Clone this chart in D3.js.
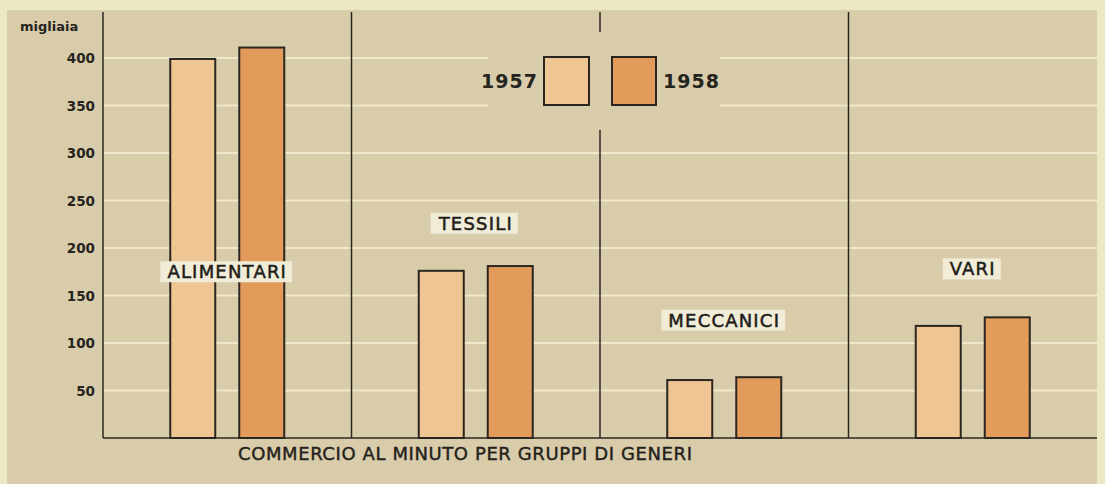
<!DOCTYPE html>
<html>
<head>
<meta charset="utf-8">
<script src="https://cdn.jsdelivr.net/npm/d3@7"></script>
<style>
  body { margin: 0; background: #ece8c4; }
  svg { display: block; }
</style>
</head>
<body>
<svg id="chart" width="1105" height="484"></svg>
<script>
// data
var categories = ["ALIMENTARI", "TESSILI", "MECCANICI", "VARI"];
var years = ["1957", "1958"];
var values1957 = [399, 176, 61, 118];
var values1958 = [411, 181, 64, 127];
var yTicks = [50, 100, 150, 200, 250, 300, 350, 400];
var title = "COMMERCIO AL MINUTO PER GRUPPI DI GENERI";

var plotLeft = 103, plotRight = 1097, plotBase = 438, plotTop = 12;
var ink = "#2b2720";

var svg = d3.select("#chart");

// panel
svg.append("rect")
    .attr("x", 7).attr("y", 10)
    .attr("width", 1090).attr("height", 474)
    .attr("fill", "#d9ccaa");

var x = d3.scaleBand().domain(categories).range([plotLeft, plotRight]);
var x1 = d3.scaleBand().domain(years).range([0, 114]).paddingInner(0.348);
var y = d3.scaleLinear().domain([0, 400]).range([plotBase, 58]);
var colors = { "1957": "#efc593", "1958": "#e29b5b" };

// label positions (value units on y scale)
var labelAt = { ALIMENTARI: 175, TESSILI: 226, MECCANICI: 124, VARI: 178 };

// gridlines
svg.append("g")
    .selectAll("line")
    .data(yTicks)
    .enter().append("line")
    .attr("x1", plotLeft).attr("x2", plotRight)
    .attr("y1", function(d) { return y(d); })
    .attr("y2", function(d) { return y(d); })
    .attr("stroke", "#efe8cc")
    .attr("stroke-width", 2);

// legend area hides the gridlines in the middle
svg.append("rect")
    .attr("x", 488).attr("y", 40)
    .attr("width", 232).attr("height", 80)
    .attr("fill", "#d9ccaa");

// bars
var rows = [];
categories.forEach(function(c, i) {
    rows.push({ cat: c, year: "1957", value: values1957[i] });
    rows.push({ cat: c, year: "1958", value: values1958[i] });
});

svg.append("g")
    .selectAll("rect")
    .data(rows)
    .enter().append("rect")
    .attr("x", function(d) { return x(d.cat) + x.bandwidth() / 2 - 57 + x1(d.year); })
    .attr("y", function(d) { return y(d.value); })
    .attr("width", x1.bandwidth())
    .attr("height", function(d) { return plotBase - y(d.value); })
    .attr("fill", function(d) { return colors[d.year]; })
    .attr("stroke", ink)
    .attr("stroke-width", 2);

// separators (the middle one is broken by the legend)
categories.slice(1).forEach(function(c, i) {
    var sx = x(c);
    var segs = i === 1 ? [[plotTop, 32], [130, plotBase]] : [[plotTop, plotBase]];
    segs.forEach(function(s) {
        svg.append("line").attr("x1", sx).attr("x2", sx).attr("y1", s[0]).attr("y2", s[1])
            .attr("stroke", ink).attr("stroke-width", 1.5);
    });
});

// axes lines
svg.append("line").attr("x1", plotLeft).attr("x2", plotLeft).attr("y1", plotTop).attr("y2", plotBase)
    .attr("stroke", ink).attr("stroke-width", 1.5);
svg.append("line").attr("x1", plotLeft).attr("x2", plotRight).attr("y1", plotBase).attr("y2", plotBase)
    .attr("stroke", ink).attr("stroke-width", 1.5);

// y tick labels
svg.append("g")
    .selectAll("text")
    .data(yTicks)
    .enter().append("text")
    .attr("x", 95)
    .attr("y", function(d) { return y(d) + 5; })
    .attr("text-anchor", "end")
    .attr("font-family", "DejaVu Sans")
    .attr("font-weight", "bold")
    .attr("font-size", 13.5)
    .attr("fill", "#26241e")
    .text(function(d) { return d; });

svg.append("text")
    .attr("x", 20).attr("y", 31)
    .attr("font-family", "DejaVu Sans")
    .attr("font-weight", "bold")
    .attr("font-size", 13)
    .attr("fill", "#26241e")
    .text("migliaia");

// category labels
var lab = svg.append("g").selectAll("g")
    .data(categories)
    .enter().append("g")
    .attr("transform", function(d) {
        return "translate(" + (x(d) + x.bandwidth() / 2) + "," + y(labelAt[d]) + ")";
    });

lab.append("text")
    .attr("text-anchor", "middle")
    .attr("dy", "0.36em")
    .attr("font-family", "DejaVu Sans")
    .attr("font-size", 18)
    .attr("letter-spacing", 1.2)
    .attr("fill", "#1f1d18")
    .attr("stroke", "#1f1d18")
    .attr("stroke-width", 0.5)
    .text(function(d) { return d; })
    .each(function() {
        var b = this.getBBox();
        d3.select(this.parentNode).insert("rect", "text")
            .attr("x", b.x - 7).attr("y", -10.5)
            .attr("width", b.width + 12).attr("height", 21)
            .attr("fill", "#f0ecd8");
    });

// legend
svg.append("rect").attr("x", 544).attr("y", 57).attr("width", 45).attr("height", 48)
    .attr("fill", colors["1957"]).attr("stroke", ink).attr("stroke-width", 2);
svg.append("rect").attr("x", 612).attr("y", 57).attr("width", 44).attr("height", 48)
    .attr("fill", colors["1958"]).attr("stroke", ink).attr("stroke-width", 2);
svg.append("text").attr("x", 538).attr("y", 88).attr("text-anchor", "end")
    .attr("font-family", "DejaVu Sans").attr("font-weight", "bold").attr("font-size", 19)
    .attr("letter-spacing", 1).attr("fill", "#26241e").text(years[0]);
svg.append("text").attr("x", 663).attr("y", 88)
    .attr("font-family", "DejaVu Sans").attr("font-weight", "bold").attr("font-size", 19)
    .attr("letter-spacing", 1).attr("fill", "#26241e").text(years[1]);

// title
svg.append("text")
    .attr("x", 465).attr("y", 460)
    .attr("text-anchor", "middle")
    .attr("font-family", "DejaVu Sans")
    .attr("font-size", 18)
    .attr("textLength", 454)
    .attr("fill", "#23211b")
    .attr("stroke", "#23211b")
    .attr("stroke-width", 0.4)
    .text(title);
</script>
</body>
</html>
